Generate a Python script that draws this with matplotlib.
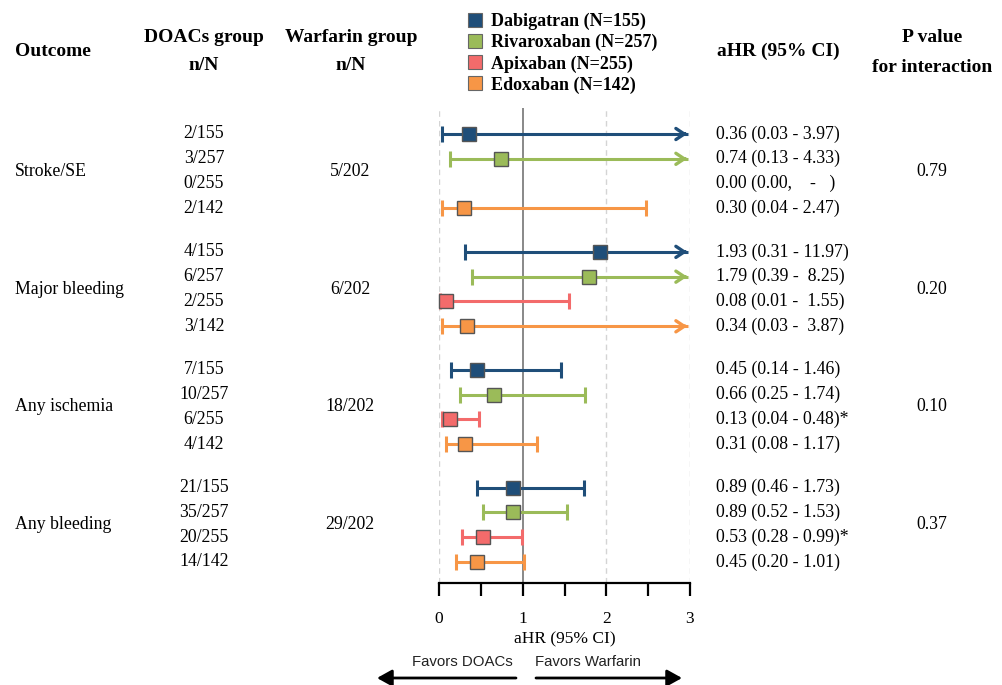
import matplotlib
matplotlib.use("Agg")
import matplotlib.pyplot as plt
from matplotlib.lines import Line2D
import matplotlib.transforms as mtransforms

# ---------------- data ----------------
outcomes = ["Stroke/SE", "Major bleeding", "Any ischemia", "Any bleeding"]
drugs = ["Dabigatran (N=155)", "Rivaroxaban (N=257)", "Apixaban (N=255)", "Edoxaban (N=142)"]
colors = ["#1F4E79", "#9BBB59", "#F36B6B", "#F79646"]

doac_nN = [["2/155", "3/257", "0/255", "2/142"],
           ["4/155", "6/257", "2/255", "3/142"],
           ["7/155", "10/257", "6/255", "4/142"],
           ["21/155", "35/257", "20/255", "14/142"]]
warfarin_nN = ["5/202", "6/202", "18/202", "29/202"]

hr = [[0.36, 0.74, None, 0.30],
      [1.93, 1.79, 0.08, 0.34],
      [0.45, 0.66, 0.13, 0.31],
      [0.89, 0.89, 0.53, 0.45]]
lo = [[0.03, 0.13, None, 0.04],
      [0.31, 0.39, 0.01, 0.03],
      [0.14, 0.25, 0.04, 0.08],
      [0.46, 0.52, 0.28, 0.20]]
hi = [[3.97, 4.33, None, 2.47],
      [11.97, 8.25, 1.55, 3.87],
      [1.46, 1.74, 0.48, 1.17],
      [1.73, 1.53, 0.99, 1.01]]
hr_text = [["0.36 (0.03 - 3.97)", "0.74 (0.13 - 4.33)", "0.00 (0.00,    -   )", "0.30 (0.04 - 2.47)"],
           ["1.93 (0.31 - 11.97)", "1.79 (0.39 -  8.25)", "0.08 (0.01 -  1.55)", "0.34 (0.03 -  3.87)"],
           ["0.45 (0.14 - 1.46)", "0.66 (0.25 - 1.74)", "0.13 (0.04 - 0.48)*", "0.31 (0.08 - 1.17)"],
           ["0.89 (0.46 - 1.73)", "0.89 (0.52 - 1.53)", "0.53 (0.28 - 0.99)*", "0.45 (0.20 - 1.01)"]]
p_values = ["0.79", "0.20", "0.10", "0.37"]
xticks_major = [0, 1, 2, 3]
xticks_minor = [0.5, 1.5, 2.5]
x_max = 3

# ---------------- figure ----------------
W, H = 1003, 685
fig = plt.figure(figsize=(W / 100, H / 100), dpi=100)
serif = ["Liberation Serif", "DejaVu Serif"]
sans = ["Liberation Sans", "DejaVu Sans"]
plt.rcParams["font.family"] = serif

def fx(px):
    return px / W

def fy(py):
    return 1 - py / H

ax_left, ax_right, ax_top, ax_bot = 439, 690, 108, 583
ax = fig.add_axes([fx(ax_left), fy(ax_bot), fx(ax_right - ax_left), (ax_bot - ax_top) / H])

group_step = 4.75
rows = [[g * group_step + i for i in range(4)] for g in range(4)]
first_px, last_px = 134, 562
row_px = (last_px - first_px) / rows[3][3]
ax.set_ylim((ax_bot - first_px) / row_px, (ax_top - first_px) / row_px)
ax.set_xlim(0, x_max)

for xv in [0, 2, 3]:
    ax.axvline(xv, color="#d4d4d4", lw=1.0, ls=(0, (4, 3)), zorder=1)
ax.axvline(1, color="#7f7f7f", lw=1.3, zorder=2)

for g in range(4):
    for i in range(4):
        y = rows[g][i]
        if hr[g][i] is None:
            continue
        c = colors[i]
        l, h, m = lo[g][i], hi[g][i], hr[g][i]
        if h > x_max:
            ax.plot([l, x_max - 0.02], [y, y], color=c, lw=2.2, solid_capstyle="butt", zorder=3, clip_on=False)
            ax.annotate("", xy=(x_max, y), xytext=(x_max - 0.1, y),
                        arrowprops=dict(arrowstyle="->,head_length=0.6,head_width=0.4", color=c, lw=2.4),
                        zorder=3, annotation_clip=False)
            ax.plot([l], [y], marker="|", ms=11, mew=2.2, color=c, zorder=3, clip_on=False)
        else:
            ax.errorbar([m], [y], xerr=[[m - l], [h - m]], fmt="none", ecolor=c, elinewidth=2.2,
                        capsize=5.5, capthick=2.2, zorder=3, clip_on=False)
        ax.plot([m], [y], marker="s", ms=10.5, mfc=c, mec="#555555", mew=1.0, zorder=4,
                clip_on=False, ls="none")

for s in ["left", "right", "top"]:
    ax.spines[s].set_visible(False)
ax.spines["bottom"].set_linewidth(1.6)
ax.set_yticks([])
ax.set_xticks(xticks_major)
ax.set_xticks(xticks_minor, minor=True)
ax.tick_params(axis="x", which="both", direction="out", length=9, width=1.6, color="black")
ax.tick_params(axis="x", which="major", pad=11, labelsize=12.5)
ax.set_xticklabels([str(v) for v in xticks_major], fontfamily=serif)
ax.set_xlabel("aHR (95% CI)", fontsize=12.5, labelpad=3)

# ---------------- text columns ----------------
trans = mtransforms.blended_transform_factory(fig.transFigure, ax.transData)
body = 12.8
for g in range(4):
    mid = (rows[g][0] + rows[g][3]) / 2
    fig.text(fx(15), mid, outcomes[g], transform=trans, ha="left", va="center", fontsize=body)
    fig.text(fx(350), mid, warfarin_nN[g], transform=trans, ha="center", va="center", fontsize=body)
    fig.text(fx(932), mid, p_values[g], transform=trans, ha="center", va="center", fontsize=body)
    for i in range(4):
        y = rows[g][i]
        fig.text(fx(204), y, doac_nN[g][i], transform=trans, ha="center", va="center", fontsize=body)
        fig.text(fx(716), y, hr_text[g][i], transform=trans, ha="left", va="center", fontsize=body)

hdr = 14
fig.text(fx(15), fy(51), "Outcome", ha="left", va="center", fontsize=hdr, fontweight="bold")
fig.text(fx(204), fy(38), "DOACs group", ha="center", va="center", fontsize=hdr, fontweight="bold")
fig.text(fx(204), fy(65), "n/N", ha="center", va="center", fontsize=hdr, fontweight="bold")
fig.text(fx(351), fy(38), "Warfarin group", ha="center", va="center", fontsize=hdr, fontweight="bold")
fig.text(fx(351), fy(65), "n/N", ha="center", va="center", fontsize=hdr, fontweight="bold")
fig.text(fx(778), fy(51), "aHR (95% CI)", ha="center", va="center", fontsize=hdr, fontweight="bold")
fig.text(fx(932), fy(37), "P value", ha="center", va="center", fontsize=hdr, fontweight="bold")
fig.text(fx(932), fy(67), "for interaction", ha="center", va="center", fontsize=hdr, fontweight="bold")

# legend
handles = [Line2D([], [], marker="s", ls="none", ms=10.5, mfc=c, mec="#666666", mew=0.8) for c in colors]
fig.legend(handles, drugs, loc="upper left", bbox_to_anchor=(fx(455), fy(0)), frameon=False,
           prop=dict(family=serif, weight="bold", size=13), handlelength=0.8, handletextpad=0.5,
           labelspacing=0.22, borderpad=0.2)

# favors
fig.text(fx(462), fy(662), "Favors DOACs", ha="center", va="center", fontsize=10.8, family=sans, color="#222222")
fig.text(fx(588), fy(662), "Favors Warfarin", ha="center", va="center", fontsize=10.8, family=sans, color="#222222")
fig.add_artist(matplotlib.patches.FancyArrowPatch((fx(516), fy(678)), (fx(377), fy(678)), transform=fig.transFigure,
               arrowstyle="-|>,head_length=9,head_width=5", lw=2.0, color="black", mutation_scale=1,
               shrinkA=0, shrinkB=0))
fig.add_artist(matplotlib.patches.FancyArrowPatch((fx(536), fy(678)), (fx(682), fy(678)), transform=fig.transFigure,
               arrowstyle="-|>,head_length=9,head_width=5", lw=2.0, color="black", mutation_scale=1,
               shrinkA=0, shrinkB=0))

fig.savefig("out.png", dpi=100, facecolor="white")
